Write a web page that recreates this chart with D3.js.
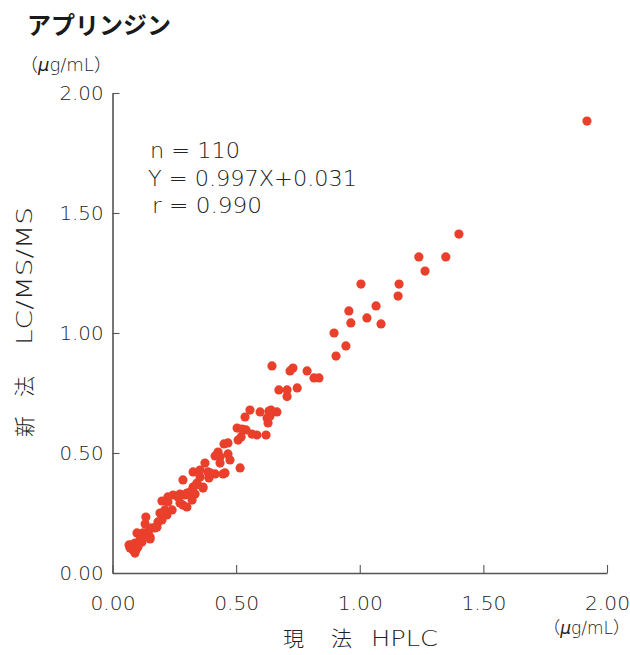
<!DOCTYPE html>
<html>
<head>
<meta charset="utf-8">
<script src="https://cdn.jsdelivr.net/npm/d3@7"></script>
<style>
  html, body { margin: 0; padding: 0; background: #fff; }
  svg { display: block; }
  text { font-family: "DejaVu Sans", "Noto Sans CJK JP", sans-serif; font-weight: 200; fill: #222; }
  .cjk { font-family: "Noto Sans CJK JP", sans-serif; font-weight: 300; }
</style>
</head>
<body>
<svg id="chart" width="630" height="655"></svg>
<script>
// Current method (HPLC) vs new method (LC/MS/MS), µg/mL
const currentHPLC = [
  1.919, 1.401, 1.239, 1.348, 1.264, 1.005, 1.159, 1.155, 0.956, 1.066,
  1.029, 0.964, 1.086, 0.896, 0.944, 0.904, 0.645, 0.718, 0.730, 0.787,
  0.815, 0.835, 0.673, 0.706, 0.747, 0.706, 0.556, 0.597, 0.633, 0.665,
  0.536, 0.625, 0.629, 0.504, 0.540, 0.584, 0.621, 0.508, 0.520, 0.451,
  0.467, 0.427, 0.467, 0.435, 0.475, 0.374, 0.435, 0.516, 0.447, 0.415,
  0.386, 0.326, 0.354, 0.390, 0.285, 0.366, 0.342, 0.326, 0.314, 0.334,
  0.301, 0.273, 0.245, 0.224, 0.265, 0.322, 0.285, 0.212, 0.241, 0.200,
  0.224, 0.273, 0.301, 0.220, 0.135, 0.184, 0.200, 0.160, 0.180, 0.099,
  0.123, 0.140, 0.152, 0.119, 0.079, 0.091, 0.103, 0.083, 0.091, 0.144,
  0.115, 0.152, 0.067, 0.192, 0.338, 0.366, 0.293, 0.415, 0.455, 0.395,
  0.354, 0.132, 0.172, 0.111, 0.071, 0.095, 0.524, 0.564, 0.637, 0.641
];
const newLCMSMS = [
  1.883, 1.412, 1.317, 1.317, 1.258, 1.204, 1.204, 1.154, 1.092, 1.113,
  1.063, 1.042, 1.038, 1.000, 0.946, 0.904, 0.863, 0.842, 0.854, 0.842,
  0.813, 0.813, 0.763, 0.763, 0.771, 0.735, 0.679, 0.671, 0.675, 0.671,
  0.650, 0.646, 0.625, 0.604, 0.596, 0.575, 0.575, 0.554, 0.567, 0.538,
  0.542, 0.504, 0.496, 0.483, 0.471, 0.458, 0.458, 0.438, 0.413, 0.413,
  0.421, 0.421, 0.400, 0.396, 0.388, 0.354, 0.375, 0.358, 0.338, 0.329,
  0.333, 0.329, 0.325, 0.317, 0.317, 0.304, 0.283, 0.263, 0.263, 0.300,
  0.296, 0.292, 0.275, 0.242, 0.233, 0.213, 0.221, 0.188, 0.192, 0.167,
  0.167, 0.158, 0.150, 0.129, 0.117, 0.125, 0.108, 0.096, 0.083, 0.171,
  0.146, 0.142, 0.117, 0.250, 0.367, 0.358, 0.325, 0.488, 0.417, 0.417,
  0.429, 0.204, 0.188, 0.138, 0.104, 0.096, 0.600, 0.579, 0.654, 0.679
];
const tickValues = [0, 0.5, 1.0, 1.5, 2.0];
const tickLabels = ["0.00", "0.50", "1.00", "1.50", "2.00"];
const statsLines = ["n = 110", "Y = 0.997X+0.031", "r = 0.990"];

const svg = d3.select("#chart");
const margin = { left: 112.5, right: 23, top: 93, bottom: 82 };
const W = 630, H = 655;

const x = d3.scaleLinear().domain([0, 2]).range([margin.left, W - margin.right]);
const y = d3.scaleLinear().domain([0, 2]).range([H - margin.bottom, margin.top]);

// Title
svg.append("text")
  .attr("x", 27).attr("y", 34)
  .style("font-family", "'Noto Sans CJK JP', sans-serif")
  .style("font-size", "24px").style("font-weight", "bold").style("fill", "#1a1a1a")
  .text("アプリンジン");

// Unit label (µg/mL)
function unitLabel(xPos, yPos, anchor, size) {
  const t = svg.append("text").attr("x", xPos).attr("y", yPos)
    .attr("text-anchor", anchor).style("font-size", size + "px");
  t.append("tspan").attr("class", "cjk").text("（");
  t.append("tspan").style("font-style", "italic").text("μ");
  t.append("tspan").text("g/mL");
  t.append("tspan").attr("class", "cjk").text("）");
  return t;
}
unitLabel(20, 71, "start", 18);

// Axes
const axisColor = "#555";
const fmt = d => tickLabels[tickValues.indexOf(d)];

const gx = svg.append("g")
  .attr("transform", `translate(0,${y(0)})`)
  .call(d3.axisBottom(x).tickValues(tickValues).tickFormat(fmt).tickSizeInner(-8).tickSizeOuter(0));
gx.select(".domain").attr("stroke", axisColor).attr("stroke-width", 1.6);
gx.selectAll(".tick line").attr("stroke", axisColor).attr("stroke-width", 1.1);
gx.selectAll(".tick text")
  .attr("y", 24).attr("dy", "0.71em")
  .attr("textLength", 45).attr("lengthAdjust", "spacingAndGlyphs")
  .style("font-size", "19px").style("font-family", "'DejaVu Sans', sans-serif")
  .style("font-weight", 200).style("fill", "#222");

const gy = svg.append("g")
  .attr("transform", `translate(${x(0)},0)`)
  .call(d3.axisLeft(y).tickValues(tickValues).tickFormat(fmt).tickSizeInner(-7).tickSizeOuter(0));
gy.select(".domain").attr("stroke", axisColor).attr("stroke-width", 1.6);
gy.selectAll(".tick line").attr("stroke", axisColor).attr("stroke-width", 1.1);
gy.selectAll(".tick text")
  .attr("x", -9).attr("dy", "0.36em")
  .attr("textLength", 44).attr("lengthAdjust", "spacingAndGlyphs")
  .style("font-size", "19px").style("font-family", "'DejaVu Sans', sans-serif")
  .style("font-weight", 200).style("fill", "#222");

// Y axis title (rotated, reads bottom to top)
const yTitle = svg.append("text")
  .attr("transform", "translate(32,437) rotate(-90)")
  .style("font-size", "21px");
yTitle.append("tspan").attr("class", "cjk").attr("x", 0).text("新");
yTitle.append("tspan").attr("class", "cjk").attr("x", 40).text("法");
yTitle.append("tspan").attr("x", 92).attr("textLength", 138).attr("lengthAdjust", "spacingAndGlyphs").text("LC/MS/MS");

// X axis title
const xTitle = svg.append("text")
  .attr("y", 646)
  .style("font-size", "21px");
xTitle.append("tspan").attr("class", "cjk").attr("x", 283).text("現");
xTitle.append("tspan").attr("class", "cjk").attr("x", 331).text("法");
xTitle.append("tspan").attr("x", 371).attr("textLength", 67).attr("lengthAdjust", "spacingAndGlyphs").text("HPLC");

unitLabel(630, 634, "end", 17);

// Regression stats
const statsX = [150, 148, 152];
const statsW = [90, 209, 110];
svg.append("g").selectAll("text")
  .data(statsLines)
  .join("text")
  .attr("x", (d, i) => statsX[i])
  .attr("y", (d, i) => 158 + i * 27.5)
  .attr("textLength", (d, i) => statsW[i])
  .attr("lengthAdjust", "spacingAndGlyphs")
  .style("font-size", "21px")
  .text(d => d);

// Points
const points = currentHPLC.map((v, i) => ({ x: v, y: newLCMSMS[i] }));
svg.append("g").selectAll("circle")
  .data(points)
  .join("circle")
  .attr("cx", d => x(d.x))
  .attr("cy", d => y(d.y))
  .attr("r", 4.6)
  .attr("fill", "#ea3f2b");
</script>
</body>
</html>
